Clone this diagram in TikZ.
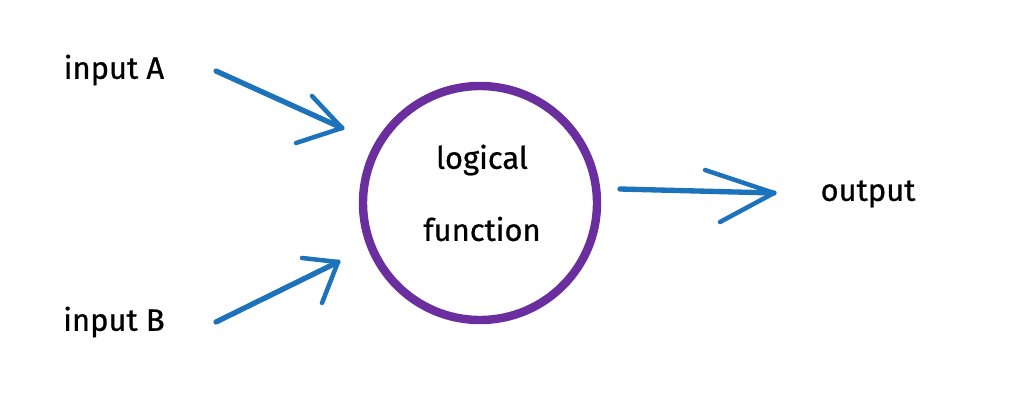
\documentclass[tikz,border=0pt]{standalone}
\usepackage{fontspec}
\setmainfont{Fira Sans}
\newfontfamily\lblfont{Fira Sans}[FakeBold=0.7]
\usetikzlibrary{arrows.meta}
\definecolor{penblue}{HTML}{1C73BC}
\definecolor{penpurple}{HTML}{6A2E9F}
\tikzset{
  lbl/.style={font=\fontsize{22}{25}\lblfont, text=black, inner sep=0pt},
  pen/.style={draw=penblue, line width=3.8pt, line cap=round, line join=round},
  barb/.style={draw=penblue, line width=3.2pt, line cap=round, line join=round},
  ring/.style={circle, draw=penpurple, line width=6pt, minimum size=234*0.025cm, inner sep=0pt}
}
\begin{document}
\begin{tikzpicture}[x=0.025cm, y=-0.025cm]
\useasboundingbox (0,0) rectangle (1028,409);
\node[lbl] (inA) at (114,70) {input A};
\node[lbl] (inB) at (114,322) {input B};
\node[lbl] (out) at (868,194) {output};
\node[ring] (fn) at (480,203) {};
\node[lbl] (t1) at (482,160) {logical};
\node[lbl] (t2) at (482,229) {function};
% arrow A
\coordinate (a0) at (216,71);
\coordinate (a1) at (342,128);
\coordinate (a1u) at (312,96);
\coordinate (a1d) at (296,143);
\draw[pen] (a0) -- (a1);
\draw[barb] (a1u) -- (a1) -- (a1d);
% arrow B
\coordinate (b0) at (216,322);
\coordinate (b1) at (338,262);
\coordinate (b1u) at (302,258);
\coordinate (b1d) at (322,303);
\draw[pen] (b0) -- (b1);
\draw[barb] (b1u) -- (b1) -- (b1d);
% output arrow
\coordinate (c0) at (620,189);
\coordinate (c1) at (774,193);
\coordinate (c1u) at (705,170);
\coordinate (c1d) at (720,222);
\draw[pen] (c0) -- (c1);
\draw[barb] (c1u) -- (c1) -- (c1d);
\end{tikzpicture}
\end{document}
